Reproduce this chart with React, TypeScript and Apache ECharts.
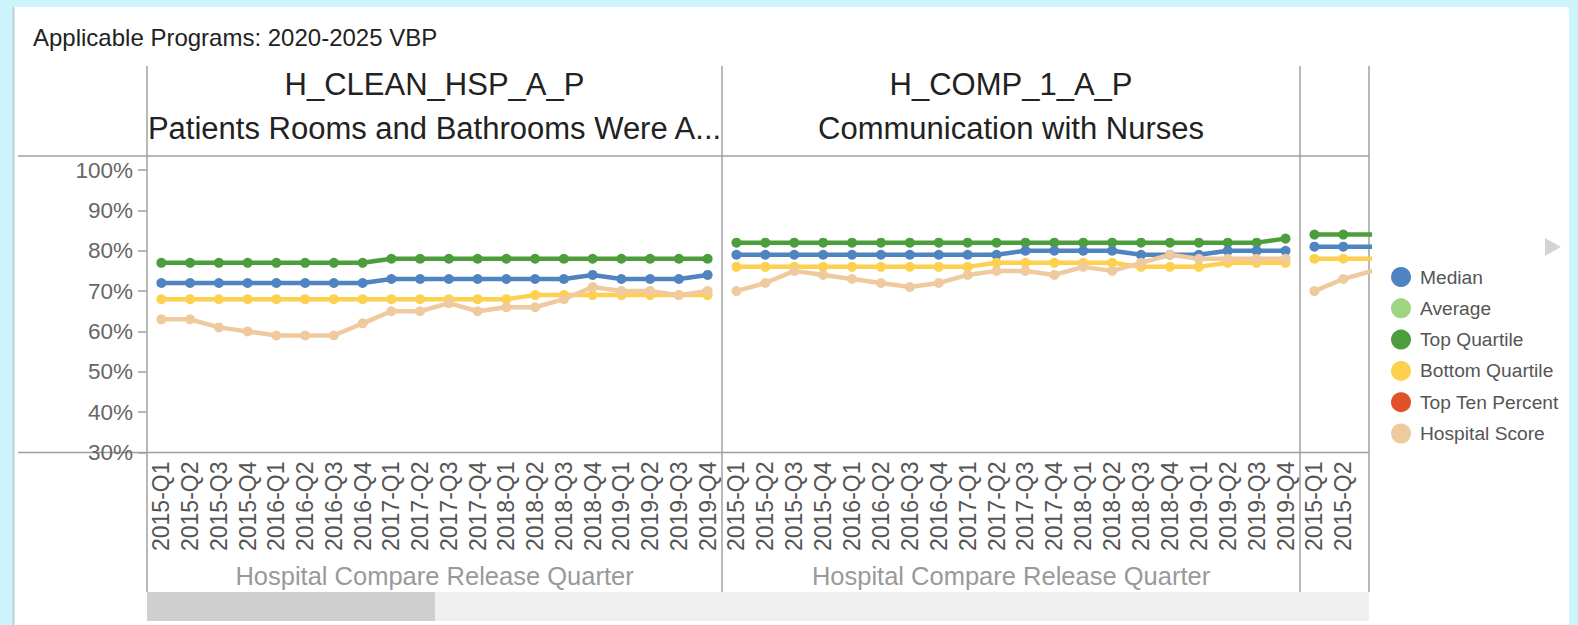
import React, { useEffect, useRef } from "react";
import * as echarts from "echarts";

const categories = [
  "2015-Q1", "2015-Q2", "2015-Q3", "2015-Q4",
  "2016-Q1", "2016-Q2", "2016-Q3", "2016-Q4",
  "2017-Q1", "2017-Q2", "2017-Q3", "2017-Q4",
  "2018-Q1", "2018-Q2", "2018-Q3", "2018-Q4",
  "2019-Q1", "2019-Q2", "2019-Q3", "2019-Q4",
];

const legendNames = ["Median", "Average", "Top Quartile", "Bottom Quartile", "Top Ten Percent", "Hospital Score"];

const mainTitle = "Applicable Programs: 2020-2025 VBP";
const panelCodes = ["H_CLEAN_HSP_A_P", "H_COMP_1_A_P"];
const panelNames = ["Patients Rooms and Bathrooms Were A...", "Communication with Nurses"];
const xAxisTitle = "Hospital Compare Release Quarter";

// Panel 1: H_CLEAN_HSP_A_P
const cleanMedian = [72, 72, 72, 72, 72, 72, 72, 72, 73, 73, 73, 73, 73, 73, 73, 74, 73, 73, 73, 74];
const cleanTopQuartile = [77, 77, 77, 77, 77, 77, 77, 77, 78, 78, 78, 78, 78, 78, 78, 78, 78, 78, 78, 78];
const cleanBottomQuartile = [68, 68, 68, 68, 68, 68, 68, 68, 68, 68, 68, 68, 68, 69, 69, 69, 69, 69, 69, 69];
const cleanHospital = [63, 63, 61, 60, 59, 59, 59, 62, 65, 65, 67, 65, 66, 66, 68, 71, 70, 70, 69, 70];

// Panel 2: H_COMP_1_A_P
const nursesMedian = [79, 79, 79, 79, 79, 79, 79, 79, 79, 79, 80, 80, 80, 80, 79, 79, 79, 80, 80, 80];
const nursesTopQuartile = [82, 82, 82, 82, 82, 82, 82, 82, 82, 82, 82, 82, 82, 82, 82, 82, 82, 82, 82, 83];
const nursesBottomQuartile = [76, 76, 76, 76, 76, 76, 76, 76, 76, 77, 77, 77, 77, 77, 76, 76, 76, 77, 77, 77];
const nursesHospital = [70, 72, 75, 74, 73, 72, 71, 72, 74, 75, 75, 74, 76, 75, 77, 79, 78, 78, 78, 78];

// Panel 3 (cut off at the right edge)
const thirdMedian = [81, 81, 81];
const thirdTopQuartile = [84, 84, 84];
const thirdBottomQuartile = [78, 78, 78];
const thirdHospital = [70, 73, 75];

const COLORS: Record<string, string> = {
  Median: "#4f84c0",
  Average: "#9dd580",
  "Top Quartile": "#4b9e3b",
  "Bottom Quartile": "#fed04f",
  "Top Ten Percent": "#e05229",
  "Hospital Score": "#efca9f",
};

const FONT = "'Liberation Sans', Arial, sans-serif";
const LINE_GREY = "#a0a0a0";

function lineSeries(name: string, data: any[], idx: number) {
  return {
    type: "line",
    name,
    data,
    xAxisIndex: idx,
    yAxisIndex: idx,
    symbol: "circle",
    symbolSize: 10,
    showSymbol: true,
    clip: true,
    color: COLORS[name],
    lineStyle: { width: 4.5, color: COLORS[name] },
    itemStyle: { color: COLORS[name] },
    emphasis: { disabled: true },
  };
}

export default function App() {
  const ref = useRef<HTMLDivElement>(null);

  useEffect(() => {
    if (!ref.current) return;
    const chart = echarts.init(ref.current, undefined, { renderer: "svg" });

    const gridTop = 170;
    const gridH = 282.5;
    const panels = [
      { left: 147, width: 575 },
      { left: 722, width: 578 },
      { left: 1300, width: 69 },
    ];
    const step3 = 28.85;

    const panel3 = (arr: number[]) => arr.map((v, i) => [i, v]);

    const series: any[] = [
      lineSeries("Top Quartile", cleanTopQuartile, 0),
      lineSeries("Median", cleanMedian, 0),
      lineSeries("Bottom Quartile", cleanBottomQuartile, 0),
      lineSeries("Average", [], 0),
      lineSeries("Top Ten Percent", [], 0),
      lineSeries("Hospital Score", cleanHospital, 0),
      lineSeries("Top Quartile", nursesTopQuartile, 1),
      lineSeries("Median", nursesMedian, 1),
      lineSeries("Bottom Quartile", nursesBottomQuartile, 1),
      lineSeries("Hospital Score", nursesHospital, 1),
      lineSeries("Top Quartile", panel3(thirdTopQuartile), 2),
      lineSeries("Median", panel3(thirdMedian), 2),
      lineSeries("Bottom Quartile", panel3(thirdBottomQuartile), 2),
      lineSeries("Hospital Score", panel3(thirdHospital), 2),
    ];

    const labelStyle = {
      rotate: 90,
      fontSize: 23,
      color: "#555",
      margin: 9,
      fontFamily: FONT,
    };

    const catAxis = (gridIndex: number) => ({
      type: "category",
      gridIndex,
      data: categories,
      boundaryGap: true,
      axisLine: { show: false },
      axisTick: { show: false },
      splitLine: { show: false },
      axisLabel: { ...labelStyle, interval: 0 },
      name: xAxisTitle,
      nameLocation: "middle",
      nameGap: 110,
      nameTextStyle: { fontSize: 25.5, color: "#999", fontFamily: FONT },
    });

    const frameV = [147, 722, 1300, 1369];

    const graphic: any[] = [
      { type: "rect", shape: { x: 14, y: 7, width: 1555, height: 618 }, style: { fill: "#ffffff" }, z: -10, silent: true },
      { type: "line", shape: { x1: 13.5, y1: 7, x2: 13.5, y2: 625 }, style: { stroke: "#c3ccd0", lineWidth: 2 }, z: -9, silent: true },
      {
        type: "text", x: 33, y: 37,
        style: { text: mainTitle, fontSize: 24, fontFamily: FONT, fill: "#222", verticalAlign: "middle" },
      },
      ...panelCodes.map((t, i) => ({
        type: "text",
        x: panels[i].left + panels[i].width / 2,
        y: 84,
        style: { text: t, fontSize: 31, fontFamily: FONT, fill: "#222", align: "center", verticalAlign: "middle" },
      })),
      ...panelNames.map((t, i) => ({
        type: "text",
        x: panels[i].left + panels[i].width / 2,
        y: 128,
        style: { text: t, fontSize: 31, fontFamily: FONT, fill: "#222", align: "center", verticalAlign: "middle" },
      })),
      { type: "line", shape: { x1: 18, y1: 156, x2: 1369, y2: 156 }, style: { stroke: LINE_GREY, lineWidth: 1.5 }, silent: true },
      { type: "line", shape: { x1: 18, y1: 452.5, x2: 1369, y2: 452.5 }, style: { stroke: LINE_GREY, lineWidth: 1.5 }, silent: true },
      ...frameV.map((x) => ({
        type: "line",
        shape: { x1: x, y1: 66, x2: x, y2: 592 },
        style: { stroke: LINE_GREY, lineWidth: 1.5 },
        silent: true,
      })),
      { type: "rect", shape: { x: 147, y: 592, width: 1222, height: 29 }, style: { fill: "#efefef" }, silent: true },
      { type: "rect", shape: { x: 147, y: 592, width: 288, height: 29 }, style: { fill: "#cfcfcf" }, silent: true },
      {
        type: "polygon",
        shape: { points: [[1545, 238], [1545, 256], [1561, 247]] },
        style: { fill: "#d4d4d4" },
        silent: true,
      },
    ];

    chart.setOption({
      animation: false,
      textStyle: { fontFamily: FONT },
      legend: {
        orient: "vertical",
        left: 1391,
        top: 267,
        padding: 0,
        itemWidth: 20,
        itemHeight: 20,
        itemGap: 11.3,
        icon: "circle",
        selectedMode: false,
        data: legendNames,
        textStyle: { fontSize: 19.2, color: "#555", padding: [0, 0, 0, 4], fontFamily: FONT },
      },
      grid: panels.map((p) => ({ left: p.left, top: gridTop, width: p.width, height: gridH })),
      xAxis: [
        catAxis(0),
        catAxis(1),
        {
          type: "value",
          gridIndex: 2,
          min: -0.5,
          max: -0.5 + panels[2].width / step3,
          axisLine: { show: false },
          axisTick: { show: false },
          splitLine: { show: false },
          axisLabel: {
            ...labelStyle,
            customValues: [0, 1],
            formatter: (v: number) => categories[Math.round(v)] ?? "",
          },
        },
      ],
      yAxis: [0, 1, 2].map((i) => ({
        type: "value",
        gridIndex: i,
        min: 30,
        max: 100,
        interval: 10,
        show: i === 0,
        axisLine: { show: false },
        splitLine: { show: false },
        axisTick: { show: true, length: 9, lineStyle: { color: LINE_GREY, width: 1.5 } },
        axisLabel: { formatter: "{value}%", fontSize: 22.5, color: "#666", margin: 14, fontFamily: FONT },
      })),
      series,
      graphic,
    });

    return () => chart.dispose();
  }, []);

  return (
    <div
      ref={ref}
      style={{ position: "fixed", left: 0, top: 0, width: 1578, height: 625, background: "#cdf3fc" }}
    />
  );
}
